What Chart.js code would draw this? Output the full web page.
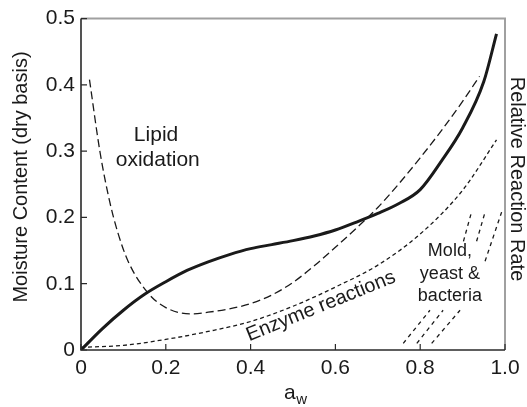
<!DOCTYPE html>
<html>
<head>
<meta charset="utf-8">
<script src="https://cdn.jsdelivr.net/npm/chart.js@4.4.1/dist/chart.umd.min.js"></script>
<style>
  html, body { margin: 0; padding: 0; background: #fff; }
  #wrap { width: 527px; height: 407px; }
</style>
</head>
<body>
<div id="wrap"><canvas id="c" width="527" height="407"></canvas></div>
<script>
// ---- data ----
const xTicks = [0, 0.2, 0.4, 0.6, 0.8, 1];
const yTicks = [0, 0.1, 0.2, 0.3, 0.4, 0.5];

const isoX = [0, 0.05, 0.1, 0.15, 0.2, 0.25, 0.3, 0.35, 0.4, 0.45, 0.5, 0.55, 0.6, 0.65, 0.7, 0.75, 0.8, 0.85, 0.9, 0.95, 0.98];
const isoY = [0, 0.032, 0.06, 0.084, 0.103, 0.12, 0.133, 0.144, 0.153, 0.159, 0.165, 0.172, 0.181, 0.193, 0.206, 0.221, 0.242, 0.285, 0.335, 0.405, 0.477];

const lipidX = [0.02, 0.045, 0.068, 0.086, 0.111, 0.158, 0.2, 0.26, 0.3, 0.35, 0.4, 0.45, 0.5, 0.55, 0.6, 0.65, 0.7, 0.75, 0.8, 0.85, 0.9, 0.94];
const lipidY = [0.408, 0.298, 0.223, 0.179, 0.134, 0.086, 0.064, 0.0545, 0.057, 0.062, 0.07, 0.083, 0.102, 0.127, 0.155, 0.184, 0.215, 0.251, 0.29, 0.331, 0.375, 0.413];

const enzX = [0, 0.1, 0.2, 0.3, 0.4, 0.5, 0.6, 0.7, 0.8, 0.9, 0.98];
const enzY = [0.004, 0.007, 0.016, 0.028, 0.043, 0.066, 0.095, 0.128, 0.175, 0.241, 0.317];

const moldAX = [0.76, 0.823, 0.86, 0.902, 0.921];
const moldAY = [0.01, 0.06, null, 0.164, 0.208];
const moldBX = [0.792, 0.854, 0.89, 0.933, 0.953];
const moldBY = [0.01, 0.06, null, 0.164, 0.208];
const moldCX = [0.827, 0.894, 0.92, 0.953, 0.992];
const moldCY = [0.01, 0.06, null, 0.134, 0.208];

const labelLipid = ['Lipid', 'oxidation'];
const labelEnzyme = 'Enzyme reactions';
const labelMold = ['Mold,', 'yeast &', 'bacteria'];
const yTitle = 'Moisture Content (dry basis)';
const y2Title = 'Relative Reaction Rate';
const xTitleMain = 'a';
const xTitleSub = 'w';

const FONT = '"Liberation Sans", Arial, Helvetica, sans-serif';
const INK = '#1a1a1a';

function pts(xs, ys) { return xs.map((x, i) => ({ x: x, y: ys[i] })); }

function lineDs(xs, ys, width, dash) {
  return {
    data: pts(xs, ys),
    borderColor: INK,
    borderWidth: width,
    borderDash: dash,
    pointRadius: 0,
    fill: false,
    cubicInterpolationMode: 'monotone',
    spanGaps: false
  };
}

const decor = {
  id: 'decor',
  afterDraw(chart) {
    const ctx = chart.ctx;
    const a = chart.chartArea;
    const xs = chart.scales.x, ys = chart.scales.y;
    ctx.save();
    // grey top/right frame
    ctx.strokeStyle = '#a0a0a0';
    ctx.lineWidth = 2;
    ctx.beginPath();
    ctx.moveTo(a.left, a.top); ctx.lineTo(a.right, a.top); ctx.lineTo(a.right, a.bottom);
    ctx.stroke();
    // dark left/bottom axes
    ctx.strokeStyle = '#2a2a2a';
    ctx.lineWidth = 1.6;
    ctx.beginPath();
    ctx.moveTo(a.left, a.top); ctx.lineTo(a.left, a.bottom); ctx.lineTo(a.right, a.bottom);
    ctx.stroke();
    // inward ticks
    ctx.lineWidth = 1.2;
    ctx.beginPath();
    xTicks.forEach(v => { const p = xs.getPixelForValue(v); ctx.moveTo(p, a.bottom); ctx.lineTo(p, a.bottom - 6); });
    yTicks.forEach(v => { const p = ys.getPixelForValue(v); ctx.moveTo(a.left, p); ctx.lineTo(a.left + 6, p); });
    ctx.stroke();

    ctx.fillStyle = INK;
    ctx.textAlign = 'center';
    ctx.textBaseline = 'middle';
    // Lipid oxidation
    ctx.font = '21px ' + FONT;
    ctx.fillText(labelLipid[0], xs.getPixelForValue(0.177), ys.getPixelForValue(0.324));
    ctx.fillText(labelLipid[1], xs.getPixelForValue(0.181), ys.getPixelForValue(0.287));
    // Enzyme reactions (rotated)
    ctx.save();
    ctx.translate(xs.getPixelForValue(0.566), ys.getPixelForValue(0.066));
    ctx.rotate(-22 * Math.PI / 180);
    ctx.font = '20px ' + FONT;
    ctx.fillText(labelEnzyme, 0, 0);
    ctx.restore();
    // Mold, yeast & bacteria
    ctx.font = '18px ' + FONT;
    const my = [0.149, 0.115, 0.082];
    labelMold.forEach((t, i) => ctx.fillText(t, xs.getPixelForValue(0.870), ys.getPixelForValue(my[i])));

    // Y title
    ctx.font = '20px ' + FONT;
    ctx.save();
    ctx.translate(21, 177);
    ctx.rotate(-Math.PI / 2);
    ctx.fillText(yTitle, 0, 0);
    ctx.restore();
    // Right title
    ctx.save();
    ctx.translate(517, 179);
    ctx.rotate(Math.PI / 2);
    ctx.fillText(y2Title, 0, 0);
    ctx.restore();
    // X title a_w
    ctx.textAlign = 'left';
    ctx.textBaseline = 'alphabetic';
    ctx.font = '21px ' + FONT;
    ctx.fillText(xTitleMain, 284, 399);
    const aw = ctx.measureText(xTitleMain).width;
    ctx.font = '15px ' + FONT;
    ctx.fillText(xTitleSub, 284 + aw + 0.5, 404);
    ctx.restore();
  }
};

new Chart(document.getElementById('c'), {
  type: 'line',
  data: {
    datasets: [
      lineDs(isoX, isoY, 3, []),
      lineDs(lipidX, lipidY, 1.3, [8, 4]),
      lineDs(enzX, enzY, 1.3, [4, 3]),
      lineDs(moldAX, moldAY, 1.3, [4, 4]),
      lineDs(moldBX, moldBY, 1.3, [4, 4]),
      lineDs(moldCX, moldCY, 1.3, [4, 4])
    ]
  },
  options: {
    responsive: false,
    devicePixelRatio: 1,
    animation: false,
    events: [],
    layout: { padding: { left: 0, right: 22, top: 14, bottom: 0 } },
    plugins: { legend: { display: false }, tooltip: { enabled: false }, title: { display: false } },
    scales: {
      x: {
        type: 'linear', min: 0, max: 1,
        afterFit(s) { s.height = 57; },
        afterBuildTicks(s) { s.ticks = xTicks.map(v => ({ value: v })); },
        grid: { display: false, drawTicks: false },
        border: { display: false },
        ticks: { color: INK, font: { family: FONT, size: 21 }, padding: 6, maxRotation: 0 }
      },
      y: {
        type: 'linear', min: 0, max: 0.5,
        afterFit(s) { s.width = 81; },
        afterBuildTicks(s) { s.ticks = yTicks.map(v => ({ value: v })); },
        grid: { display: false, drawTicks: false },
        border: { display: false },
        ticks: { color: INK, font: { family: FONT, size: 21 }, padding: 6 }
      }
    }
  },
  plugins: [decor]
});
</script>
</body>
</html>
